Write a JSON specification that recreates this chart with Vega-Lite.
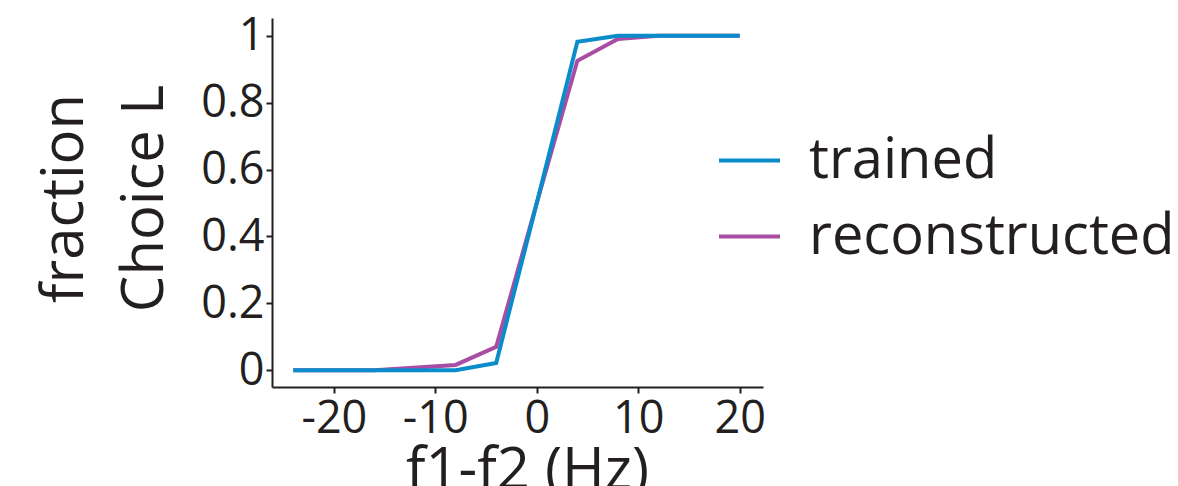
{
  "$schema": "https://vega.github.io/schema/vega-lite/v6.json",
  "width": 491,
  "height": 369,
  "autosize": {"type": "none"},
  "padding": {"left": 272, "top": 18, "right": 415, "bottom": 99},
  "background": "white",
  "config": {
    "view": {"stroke": null},
    "font": "Open Sans",
    "axis": {
      "grid": false,
      "domainColor": "#231F20",
      "domainWidth": 2,
      "tickColor": "#231F20",
      "tickWidth": 2,
      "tickSize": 6,
      "labelColor": "#231F20",
      "titleColor": "#231F20",
      "labelFont": "Open Sans",
      "titleFont": "Open Sans",
      "labelFontSize": 45,
      "titleFontSize": 58,
      "titleFontWeight": "normal"
    }
  },
  "data": {
    "values": [
      {"f": -24, "frac": 0, "series": "trained"},
      {"f": -16, "frac": 0, "series": "trained"},
      {"f": -8, "frac": 0, "series": "trained"},
      {"f": -4, "frac": 0.022, "series": "trained"},
      {"f": 0, "frac": 0.5, "series": "trained"},
      {"f": 4, "frac": 0.982, "series": "trained"},
      {"f": 8, "frac": 1, "series": "trained"},
      {"f": 12, "frac": 1, "series": "trained"},
      {"f": 20, "frac": 1, "series": "trained"},
      {"f": -24, "frac": 0, "series": "reconstructed"},
      {"f": -16, "frac": 0, "series": "reconstructed"},
      {"f": -8, "frac": 0.016, "series": "reconstructed"},
      {"f": -4, "frac": 0.07, "series": "reconstructed"},
      {"f": 0, "frac": 0.5, "series": "reconstructed"},
      {"f": 4, "frac": 0.925, "series": "reconstructed"},
      {"f": 8, "frac": 0.99, "series": "reconstructed"},
      {"f": 12, "frac": 1, "series": "reconstructed"},
      {"f": 20, "frac": 1, "series": "reconstructed"}
    ]
  },
  "encoding": {
    "x": {
      "field": "f",
      "type": "quantitative",
      "scale": {"domain": [-26.1, 22.3], "nice": false, "zero": false},
      "axis": {
        "values": [-20, -10, 0, 10, 20],
        "labelExpr": "datum.value < 0 ? '-' + abs(datum.value) : '' + datum.value",
        "labelPadding": 3,
        "title": "f1-f2 (Hz)",
        "titleX": 255,
        "titleY": 101,
        "titleBaseline": "alphabetic",
        "titleAlign": "center"
      }
    },
    "y": {
      "field": "frac",
      "type": "quantitative",
      "scale": {"domain": [-0.05, 1.053], "nice": false, "zero": false},
      "axis": {
        "values": [0, 0.2, 0.4, 0.6, 0.8, 1],
        "format": "~g",
        "labelPadding": 2,
        "title": ["fraction", "Choice L"],
        "titleAngle": -90,
        "titleX": -190,
        "titleY": 180,
        "titleAlign": "center",
        "titleBaseline": "alphabetic",
        "titleLineHeight": 80
      }
    },
    "color": {
      "field": "series",
      "type": "nominal",
      "scale": {"domain": ["trained", "reconstructed"], "range": ["#0A8CCB", "#A84CA4"]},
      "legend": {
        "title": null,
        "orient": "none",
        "legendX": 445,
        "legendY": 110,
        "padding": 0,
        "symbolType": "stroke",
        "symbolSize": 3721,
        "symbolStrokeWidth": 4,
        "labelFontSize": 56,
        "labelFont": "Open Sans",
        "labelColor": "#231F20",
        "labelLimit": 600,
        "labelOffset": 27,
        "rowPadding": 15
      }
    }
  },
  "layer": [
    {
      "transform": [{"filter": "datum.series === 'reconstructed'"}],
      "mark": {"type": "line", "strokeWidth": 4}
    },
    {
      "transform": [{"filter": "datum.series === 'trained'"}],
      "mark": {"type": "line", "strokeWidth": 4}
    }
  ]
}
